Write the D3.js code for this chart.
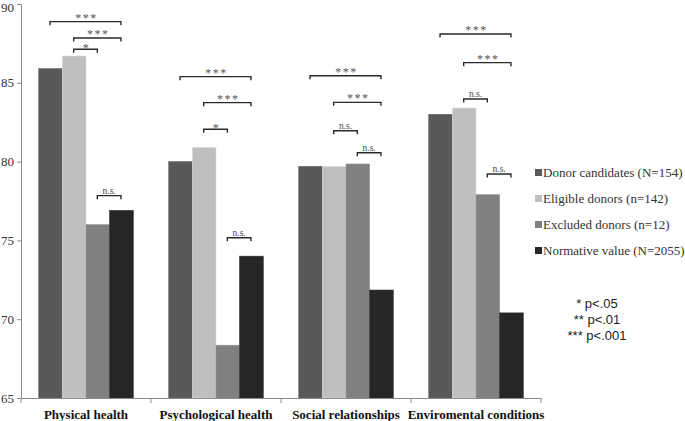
<!DOCTYPE html>
<html>
<head>
<meta charset="utf-8">
<script src="https://cdn.jsdelivr.net/npm/d3@7"></script>
<style>
  html, body { margin: 0; padding: 0; background: #fff; }
  svg { display: block; }
</style>
</head>
<body>
<svg id="chart" width="685" height="421"></svg>
<script>
// ---- data ----
const categories = ["Physical health", "Psychological health", "Social relationships", "Enviromental conditions"];
const seriesNames = ["Donor candidates (N=154)", "Eligible donors (n=142)", "Excluded donors (n=12)", "Normative value (N=2055)"];
const donorCandidates = [85.9, 80.0, 79.7, 83.0];
const eligibleDonors  = [86.7, 80.9, 79.7, 83.4];
const excludedDonors  = [76.0, 68.35, 79.85, 77.9];
const normativeValue  = [76.9, 74.0, 71.85, 70.4];
const yTicks = [65, 70, 75, 80, 85, 90];
const seriesColors = ["#595959", "#bfbfbf", "#808080", "#262626"];

// significance brackets: category index, from series, to series, level (value units), label
const bracketCategory = [0,0,0,0, 1,1,1,1, 2,2,2,2, 3,3,3,3];
const bracketFrom     = [0,1,1,2, 0,1,1,2, 0,1,1,2, 0,1,1,2];
const bracketTo       = [3,3,2,3, 3,3,2,3, 3,3,2,3, 3,3,2,3];
const bracketLevel    = [88.88,87.84,87.13,77.84, 85.39,83.74,82.05,75.17, 85.45,83.76,81.96,80.56, 88.10,86.28,83.97,79.21];
const bracketLabel    = ["***","***","*","n.s.", "***","***","*","n.s.", "***","***","n.s.","n.s.", "***","***","n.s.","n.s."];
const pLegend = ["* p<.05", "** p<.01", "*** p<.001"];

const seriesValues = [donorCandidates, eligibleDonors, excludedDonors, normativeValue];

(function () {
// ---- layout ----
const svg = d3.select("#chart");
const mLeft = 21, mRight = 541, mTop = 4, mBottom = 398;
const serif = "'Liberation Serif', 'Times New Roman', serif";

const y = d3.scaleLinear().domain([65, 90]).range([mBottom, mTop]);
const x0 = d3.scaleBand().domain(categories).range([mLeft, mRight]).paddingInner(0).paddingOuter(0);
const x1 = d3.scaleBand().domain(d3.range(seriesNames.length)).range([0, x0.bandwidth()]).paddingInner(0).paddingOuter(0.75);

// bars
const g = svg.append("g");
categories.forEach((c, ci) => {
  seriesValues.forEach((vals, si) => {
    g.append("rect")
      .attr("x", x0(c) + x1(si))
      .attr("y", y(vals[ci]))
      .attr("width", x1.bandwidth())
      .attr("height", y(65) - y(vals[ci]))
      .attr("fill", seriesColors[si])
      .attr("stroke", d3.color(seriesColors[si]).brighter(0.4))
      .attr("stroke-width", 0.6);
  });
});

// y axis
const yAxis = d3.axisLeft(y).tickValues(yTicks).tickSize(4).tickPadding(3).tickFormat(d3.format("d"));
const ya = svg.append("g").attr("transform", `translate(${mLeft},0)`).call(yAxis);
ya.select(".domain").attr("stroke", "#8a8a8a");
ya.selectAll(".tick line").attr("stroke", "#8a8a8a");
ya.selectAll(".tick text").attr("font-family", serif)
  .attr("font-size", 13).attr("fill", "#333")
  .attr("dy", d => d === 90 ? "0.6em" : "0.32em");

// x axis
const xAxis = d3.axisBottom(x0).tickSize(0).tickPadding(12);
const xa = svg.append("g").attr("transform", `translate(0,${mBottom})`).call(xAxis);
xa.select(".domain").attr("stroke", "#8a8a8a");
xa.selectAll(".tick text").attr("font-family", serif)
  .attr("font-size", 13).attr("font-weight", "bold").attr("fill", "#111");
const bounds = categories.map(c => x0(c)).concat([mRight]);
xa.selectAll(".bound").data(bounds).enter().append("line")
  .attr("x1", d => d).attr("x2", d => d).attr("y1", 0).attr("y2", 5)
  .attr("stroke", "#8a8a8a");

// brackets
const bg = svg.append("g");
bracketLevel.forEach((lv, i) => {
  const c = categories[bracketCategory[i]];
  const xa_ = x0(c) + x1(bracketFrom[i]) + x1.bandwidth() / 2 - 0.5;
  const xb_ = x0(c) + x1(bracketTo[i]) + x1.bandwidth() / 2 - 0.5;
  const yy = y(lv);
  bg.append("path")
    .attr("d", `M${xa_},${yy + 3.5}V${yy}H${xb_}V${yy + 3.5}`)
    .attr("fill", "none").attr("stroke", "#2a2a2a").attr("stroke-width", 1.4);
  const lab = bracketLabel[i];
  const isNs = lab === "n.s.";
  const dyOff = isNs ? -2 : (lab === "*" ? 2.5 : 0);
  bg.append("text")
    .attr("x", (xa_ + xb_) / 2 + (isNs ? 0 : 1))
    .attr("y", yy + dyOff)
    .attr("text-anchor", "middle")
    .attr("font-family", serif)
    .attr("font-size", isNs ? 9.5 : 12)
    .attr("letter-spacing", isNs ? 0 : 1.5)
    .attr("fill", isNs ? "#444" : "#555")
    .text(lab);
});

// legend
const lg = svg.append("g");
seriesNames.forEach((name, i) => {
  const yy = 173 + i * 26;
  lg.append("rect").attr("x", 535).attr("y", yy - 4).attr("width", 7).attr("height", 7)
    .attr("fill", seriesColors[i]);
  lg.append("text").attr("x", 543).attr("y", yy + 4)
    .attr("font-family", serif)
    .attr("font-size", 13).attr("fill", "#333").text(name);
});

// p-value legend
pLegend.forEach((t, i) => {
  svg.append("text").attr("x", 597).attr("y", 308 + i * 16)
    .attr("text-anchor", "middle")
    .attr("font-family", "'Liberation Sans', Arial, sans-serif")
    .attr("font-size", 13).attr("fill", "#222").text(t);
});
})();
</script>
</body>
</html>
